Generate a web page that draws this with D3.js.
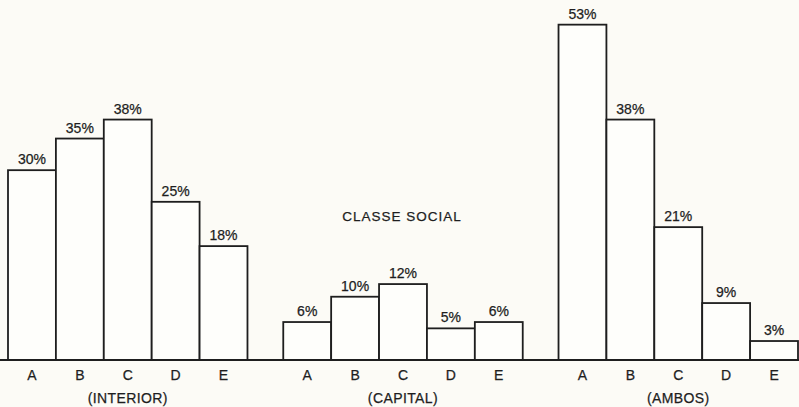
<!DOCTYPE html>
<html>
<head>
<meta charset="utf-8">
<script src="https://cdn.jsdelivr.net/npm/d3@7"></script>
<style>
  body { margin: 0; background: #fcfbf6; }
  svg { display: block; font-family: "Liberation Sans", Arial, sans-serif; }
  svg text { stroke: #1e1e1e; stroke-width: 0.25px; }
</style>
</head>
<body>
<div id="chart"></div>
<script>
// data
const categories = ["A", "B", "C", "D", "E"];
const groups = ["(INTERIOR)", "(CAPITAL)", "(AMBOS)"];
const interior = [30, 35, 38, 25, 18];
const capital = [6, 10, 12, 5, 6];
const ambos = [53, 38, 21, 9, 3];
const title = "CLASSE SOCIAL";

const width = 799,
  height = 407,
  baseY = 360,
  ink = "#1e1e1e";

const series = [interior, capital, ambos];

const svg = d3
  .select("#chart")
  .append("svg")
  .attr("width", width)
  .attr("height", height);

const xGroup = d3.scaleBand().domain(groups).range([8, 798]).paddingInner(0.13);

const xCat = d3.scaleBand().domain(categories).range([0, xGroup.bandwidth()]);

const y = d3.scaleLinear().domain([0, 55]).range([baseY, 12]);

groups.forEach((name, gi) => {
  const g = svg.append("g").attr("transform", `translate(${xGroup(name)},0)`);
  const rows = categories.map((c, i) => ({ cat: c, value: series[gi][i] }));

  g.selectAll("rect")
    .data(rows)
    .join("rect")
    .attr("x", (d) => xCat(d.cat))
    .attr("y", (d) => y(d.value))
    .attr("width", xCat.bandwidth())
    .attr("height", (d) => y(0) - y(d.value))
    .attr("fill", "#fefefb")
    .attr("stroke", ink)
    .attr("stroke-width", 1.8);

  // value labels on top of bars
  g.selectAll(".val")
    .data(rows)
    .join("text")
    .attr("class", "val")
    .attr("x", (d) => xCat(d.cat) + xCat.bandwidth() / 2)
    .attr("y", (d) => y(d.value) - 6)
    .attr("text-anchor", "middle")
    .style("font-size", "14px")
    .attr("fill", ink)
    .text((d) => d.value + "%");

  // category letters
  const axis = g
    .append("g")
    .attr("transform", `translate(0,${baseY})`)
    .call(d3.axisBottom(xCat).tickSize(0).tickPadding(10));
  axis.select(".domain").remove();
  axis
    .selectAll("text")
    .style("font-size", "14px")
    .style("font-family", "'Liberation Sans', Arial, sans-serif")
    .attr("fill", ink);

  // group label
  g.append("text")
    .attr("x", xGroup.bandwidth() / 2)
    .attr("y", 403)
    .attr("text-anchor", "middle")
    .style("font-size", "14px")
    .style("letter-spacing", "0.4px")
    .attr("fill", ink)
    .text(name);
});

// baseline across the whole chart
svg
  .append("line")
  .attr("x1", 0)
  .attr("x2", width)
  .attr("y1", y(0))
  .attr("y2", y(0))
  .attr("stroke", ink)
  .attr("stroke-width", 2);

svg
  .append("text")
  .attr("x", 402)
  .attr("y", 221)
  .attr("text-anchor", "middle")
  .style("font-size", "13.5px")
  .style("letter-spacing", "1px")
  .attr("fill", ink)
  .text(title);
</script>
</body>
</html>
